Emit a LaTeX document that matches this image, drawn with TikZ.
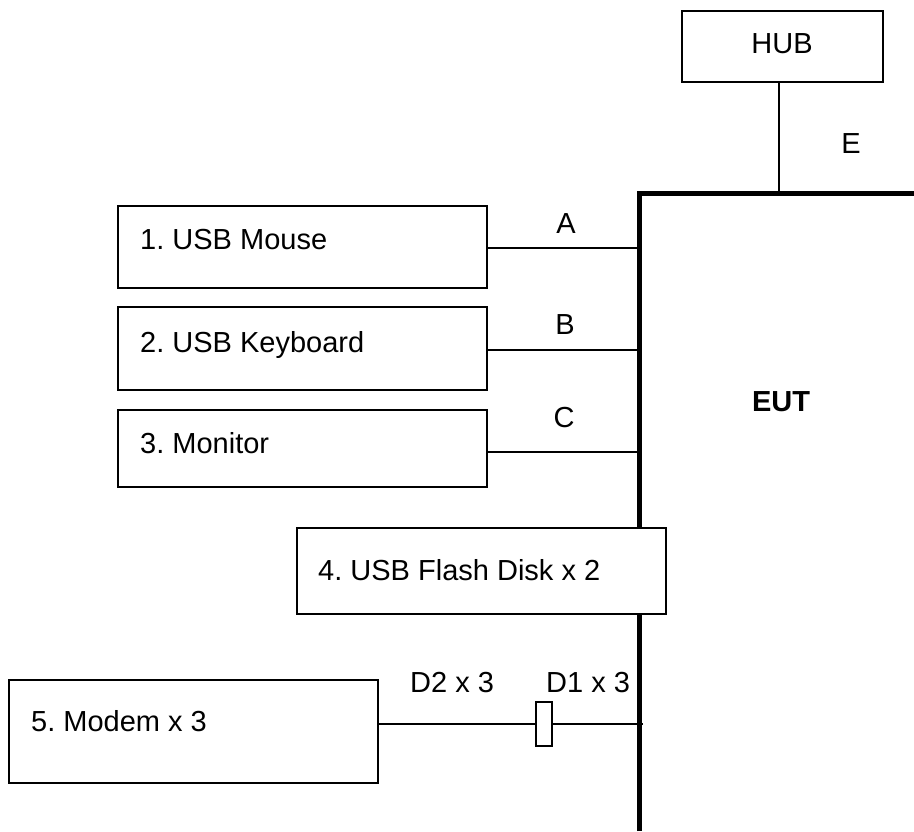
\documentclass[tikz,border=0pt]{standalone}
\usepackage{fontspec}
\setmainfont{Liberation Sans}
\frenchspacing
\begin{document}
\begin{tikzpicture}[x=1pt,y=1pt,
  box/.style={draw=black,line width=1.9pt,fill=white,rectangle,inner sep=0pt},
  txt/.style={inner sep=0pt,anchor=base west,font=\frenchspacing\fontsize{29}{34}\selectfont},
  lbl/.style={inner sep=0pt,anchor=base,font=\frenchspacing\fontsize{29}{34}\selectfont},
  wire/.style={draw=black,line width=1.8pt},
  eutline/.style={draw=black,line width=5pt,line join=miter}]
\useasboundingbox (0,0) rectangle (914,-831);
% EUT thick outline
\coordinate (eutbot) at (639.5,-831);
\coordinate (eutcorner) at (639.5,-193.5);
\coordinate (eutright) at (914,-193.5);
\draw[eutline] (eutbot) -- (eutcorner) -- (eutright);
\node[inner sep=0pt,anchor=base,font=\fontsize{29}{34}\selectfont\bfseries] (eut) at (781,-411) {EUT};
% HUB
\node[box,minimum width=201pt,minimum height=71pt] (hub) at (782.5,-46.5) {};
\node[lbl] (hubt) at (782,-53.5) {HUB};
\coordinate (e) at (779,-193.5);
\draw[wire] (e |- hub.south) -- (e);
\node[lbl] (elbl) at (851,-153.5) {E};
% device boxes
\node[box,minimum width=369pt,minimum height=82pt] (mouse) at (302.5,-247) {};
\node[txt] (mouset) at (140,-249.5) {1. USB Mouse};
\node[box,minimum width=369pt,minimum height=83pt] (kbd) at (302.5,-348.5) {};
\node[txt] (kbdt) at (140,-352) {2. USB Keyboard};
\node[box,minimum width=369pt,minimum height=77pt] (mon) at (302.5,-448.5) {};
\node[txt] (mont) at (140,-453) {3. Monitor};
% connectors A B C
\coordinate (a) at (639.5,-248);
\coordinate (b) at (639.5,-350);
\coordinate (c) at (639.5,-452);
\draw[wire] (a -| mouse.east) -- (a);
\draw[wire] (b -| kbd.east) -- (b);
\draw[wire] (c -| mon.east) -- (c);
\node[lbl] (alb) at (566,-233.5) {A};
\node[lbl] (blb) at (565,-334.5) {B};
\node[lbl] (clb) at (564,-427.5) {C};
% flash disk
\node[box,minimum width=369pt,minimum height=86pt] (flash) at (481.5,-571) {};
\node[txt] (flasht) at (318,-580.5) {4. USB Flash Disk x 2};
% modem
\node[box,minimum width=369pt,minimum height=103pt] (modem) at (193.5,-731.5) {};
\node[txt] (modemt) at (31,-731.5) {5. Modem x 3};
\coordinate (d) at (643,-724);
\draw[wire] (d -| modem.east) -- (d);
\node[box,line width=1.5pt,minimum width=16pt,minimum height=44pt] (plug) at (544,-724) {};
\node[txt] (d2) at (410,-692.5) {D2 x 3};
\node[txt] (d1) at (546,-692.5) {D1 x 3};
\end{tikzpicture}
\end{document}
